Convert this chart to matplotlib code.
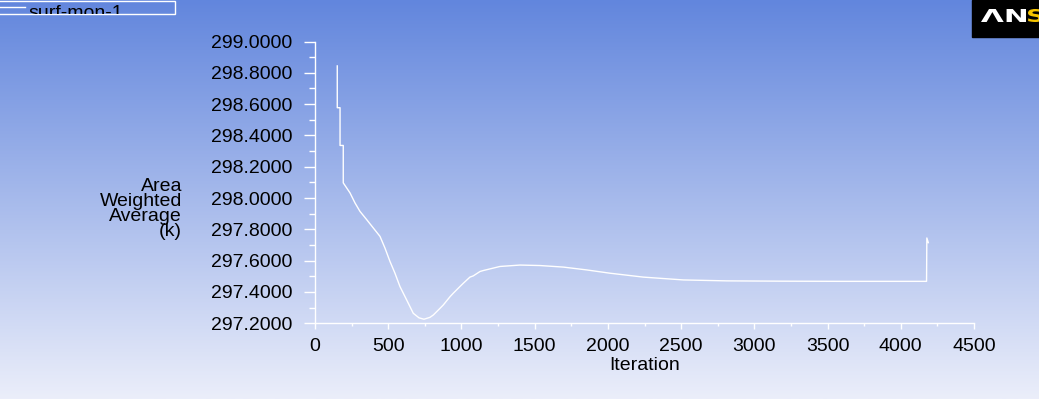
import numpy as np
import matplotlib
matplotlib.use('Agg')
import matplotlib.pyplot as plt
from matplotlib.patches import Rectangle, PathPatch
from matplotlib.textpath import TextPath
from matplotlib.font_manager import FontProperties
from matplotlib.transforms import Affine2D, IdentityTransform

# monitor history
iterations = [152, 152, 171, 171, 193, 193, 239, 273, 307, 353, 398, 444, 478, 512,
              546, 580, 626, 671, 710, 744, 785, 808, 854, 876, 922, 944, 990, 1013,
              1058, 1081, 1127, 1149, 1263, 1400, 1536, 1696, 1855, 2014, 2242, 2515,
              2811, 3200, 3600, 4000, 4176, 4178, 4188]
area_avg = [298.844, 298.577, 298.577, 298.336, 298.336, 298.097, 298.033, 297.969,
            297.915, 297.862, 297.809, 297.755, 297.680, 297.595, 297.520, 297.435,
            297.349, 297.264, 297.235, 297.226, 297.238, 297.253, 297.296, 297.317,
            297.370, 297.392, 297.435, 297.456, 297.495, 297.503, 297.531, 297.537,
            297.563, 297.572, 297.569, 297.559, 297.541, 297.520, 297.495, 297.477,
            297.471, 297.469, 297.468, 297.468, 297.468, 297.745, 297.715]

xticks = np.arange(0, 4501, 500)
yticks = np.arange(297.2, 299.01, 0.2)

W, H = 1039, 399
FS = 14
plt.rcParams['font.family'] = ['Liberation Sans', 'DejaVu Sans']
fig = plt.figure(figsize=(W / 100, H / 100), dpi=100)

# background gradient, blue at the top fading to near white
bg = fig.add_axes([0, 0, 1, 1], zorder=-10)
top = np.array([98, 134, 221]) / 255
bot = np.array([235, 238, 250]) / 255
t = np.linspace(0, 1, 256)[:, None]
grad = (top * (1 - t) + bot * t)[:, None, :]
bg.imshow(grad, aspect='auto', extent=[0, 1, 0, 1])
bg.set_axis_off()

px = lambda x: x / W
py = lambda y: 1 - y / H

ax = fig.add_axes([px(315), py(323.3), px(974) - px(315), py(41.5) - py(323.3)])
ax.patch.set_alpha(0)
ax.plot(iterations, area_avg, color='white', lw=1.0)
ax.set_xlim(0, 4500)
ax.set_ylim(297.2, 299.0)
for s in ['top', 'right']:
    ax.spines[s].set_visible(False)
for s in ['left', 'bottom']:
    ax.spines[s].set_color('white')
    ax.spines[s].set_linewidth(1.0)

ax.set_xticks(xticks)
ax.set_xticks(np.arange(250, 4500, 500), minor=True)
ax.set_yticks(yticks)
ax.set_yticklabels(['%.4f' % v for v in yticks])
ax.set_yticks(np.arange(297.3, 299.0, 0.2), minor=True)
ax.tick_params(axis='x', which='major', length=4.5, width=1, color='white',
               labelsize=FS, pad=6, labelcolor='black')
ax.tick_params(axis='x', which='minor', length=2.5, width=1, color='white')
ax.tick_params(axis='y', which='major', length=8, width=1, color='white',
               labelsize=FS, pad=8.5, labelcolor='black')
ax.tick_params(axis='y', which='minor', length=4.5, width=1, color='white')
ax.set_xlabel('Iteration', fontsize=FS, labelpad=1.5)

fig.text(px(182), py(209), 'Area\nWeighted\nAverage\n(k)', ha='right', va='center',
         multialignment='right', fontsize=FS, linespacing=0.84)

# legend strip at the top-left
box = Rectangle((px(-2), py(14)), px(177), py(1) - py(14), transform=fig.transFigure,
                fill=False, edgecolor='white', lw=1.0)
fig.patches.append(box)
fig.lines.append(plt.Line2D([px(0), px(25)], [py(7), py(7)], transform=fig.transFigure,
                            color='white', lw=1.0))
lt = fig.text(px(28), py(18.5), 'surf-mon-1', fontsize=FS, va='baseline', ha='left')
lt.set_clip_path(Rectangle((0, py(14)), 1, 1, transform=fig.transFigure))

# logo: black box with stretched bold letters
fig.patches.append(Rectangle((px(972), py(37)), px(70), py(0) - py(37),
                             transform=fig.transFigure, color='black', zorder=5))
bold = FontProperties(family='DejaVu Sans', weight='bold')


def logo_text(s, x0, x1, ytop, ybot, color):
    tp = TextPath((0, 0), s, size=10, prop=bold)
    ext = tp.get_extents()
    sx = (x1 - x0) / ext.width
    sy = (ybot - ytop) / ext.height
    tr = Affine2D().translate(-ext.x0, -ext.y0).scale(sx, sy).translate(x0, H - ybot)
    fig.patches.append(PathPatch(tr.transform_path(tp), transform=IdentityTransform(),
                                 color=color, lw=0, zorder=6))


logo_text('\u039bN', 981, 1026, 9, 22, 'white')
logo_text('S', 1028, 1043, 9, 22, '#f5c400')

fig.savefig('out.png', dpi=100)
